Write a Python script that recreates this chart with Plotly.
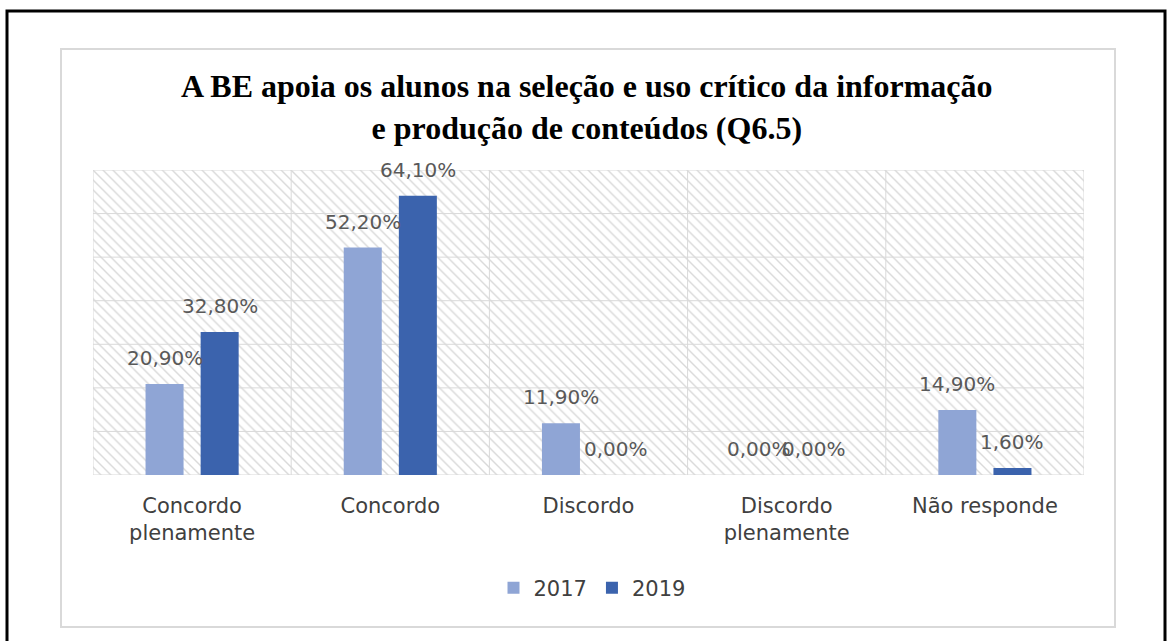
import plotly.graph_objects as go

# ---- data ----
categories = ["Concordo<br>plenamente", "Concordo", "Discordo", "Discordo<br>plenamente", "Não responde"]
series_names = ["2017", "2019"]
values_2017 = [20.9, 52.2, 11.9, 0.0, 14.9]
values_2019 = [32.8, 64.1, 0.0, 0.0, 1.6]
y_ticks = [0, 10, 20, 30, 40, 50, 60, 70]
title_text = "A BE apoia os alunos na seleção e uso crítico da informação<br>e produção de conteúdos (Q6.5)"

colors = ["#8FA5D5", "#3B63AD"]
grid_color = "#D9D9D9"
label_font = dict(family="DejaVu Sans", size=20, color="#595959")
tick_font = dict(family="DejaVu Sans", size=21, color="#404040")

W, H = 1171, 641
# plot area in screen pixels
PX0, PX1, PY0, PY1 = 93, 1084, 170, 475
L, R, T, B = PX0, W - PX1, PY0, H - PY1
bargap = 0.444
bargroupgap = 0.31

n = len(categories)
xmin, xmax = -0.5, n - 0.5
ymin, ymax = y_ticks[0], y_ticks[-1]

def fmt(v):
    return f"{v:.2f}".replace(".", ",") + "%"

pw, ph = PX1 - PX0, PY1 - PY0
def px_x(p):
    return (p - PX0) / pw
def px_y(p):
    return (PY1 - p) / ph

fig = go.Figure()

# hatched plot background (decorative)
fig.add_trace(go.Bar(
    x=[(xmin + xmax) / 2], y=[ymax], width=[xmax - xmin],
    xaxis="x", yaxis="y", showlegend=False, hoverinfo="skip",
    marker=dict(color="white", line=dict(width=0),
                pattern=dict(shape="\\", fgcolor=grid_color, bgcolor="white",
                             size=7, solidity=0.2, fillmode="replace")),
))

# gridlines above hatching
gx, gy = [], []
for yv in y_ticks:
    gx += [xmin, xmax, None]
    gy += [yv, yv, None]
for i in range(n + 1):
    xv = xmin + i
    gx += [xv, xv, None]
    gy += [ymin, ymax, None]
fig.add_trace(go.Scatter(x=gx, y=gy, mode="lines", xaxis="x", yaxis="y",
                         line=dict(color=grid_color, width=1),
                         showlegend=False, hoverinfo="skip"))

# data bars on overlaid categorical axis
for name, vals, col in zip(series_names, [values_2017, values_2019], colors):
    fig.add_trace(go.Bar(
        name=name, x=categories, y=vals, xaxis="x2", yaxis="y",
        marker=dict(color=col, line=dict(width=0)),
    ))

# data labels
slot = (1 - bargap) / 2
annotations = []
for k, vals in enumerate([values_2017, values_2019]):
    off = (k - 0.5) * slot
    for i, v in enumerate(vals):
        annotations.append(dict(
            x=i + off, y=v, xref="x2", yref="y", text=fmt(v),
            showarrow=False, yanchor="bottom", xanchor="center",
            yshift=12, font=label_font,
        ))

# title
annotations.append(dict(
    text="<b>" + title_text + "</b>", xref="paper", yref="paper",
    x=px_x(587), y=px_y(107),
    xanchor="center", yanchor="middle", showarrow=False,
    font=dict(family="Liberation Serif", size=32, color="black"),
))

shapes = [
    dict(type="rect", xref="paper", yref="paper",
         x0=px_x(7), x1=px_x(1165), y0=px_y(700), y1=px_y(11),
         line=dict(color="black", width=3), layer="below"),
    dict(type="rect", xref="paper", yref="paper",
         x0=px_x(61), x1=px_x(1115), y0=px_y(627), y1=px_y(49),
         line=dict(color="#D9D9D9", width=2), layer="below"),
]

fig.update_layout(
    width=W, height=H,
    margin=dict(l=L, r=R, t=T, b=B, pad=0),
    paper_bgcolor="white", plot_bgcolor="white",
    barmode="group", bargap=bargap, bargroupgap=bargroupgap,
    xaxis=dict(range=[xmin, xmax], showgrid=False, zeroline=False,
               showticklabels=False, showline=False, fixedrange=True),
    xaxis2=dict(type="category", overlaying="x", anchor="y", side="bottom",
                range=[xmin, xmax], showgrid=False, zeroline=False,
                showline=False, ticks="", tickfont=tick_font, ticklabelstandoff=16),
    yaxis=dict(range=[ymin, ymax], showgrid=False, zeroline=False,
               showticklabels=False, showline=False, fixedrange=True),
    legend=dict(orientation="h", x=px_x(592), y=px_y(588),
                xanchor="center", yanchor="middle",
                font=tick_font, bgcolor="rgba(0,0,0,0)"),
    annotations=annotations, shapes=shapes,
    showlegend=True,
)

fig.write_html(
    "out.html",
    config={"displayModeBar": False},
    post_script="document.body.style.margin='0px';document.body.style.overflow='hidden';",
)
